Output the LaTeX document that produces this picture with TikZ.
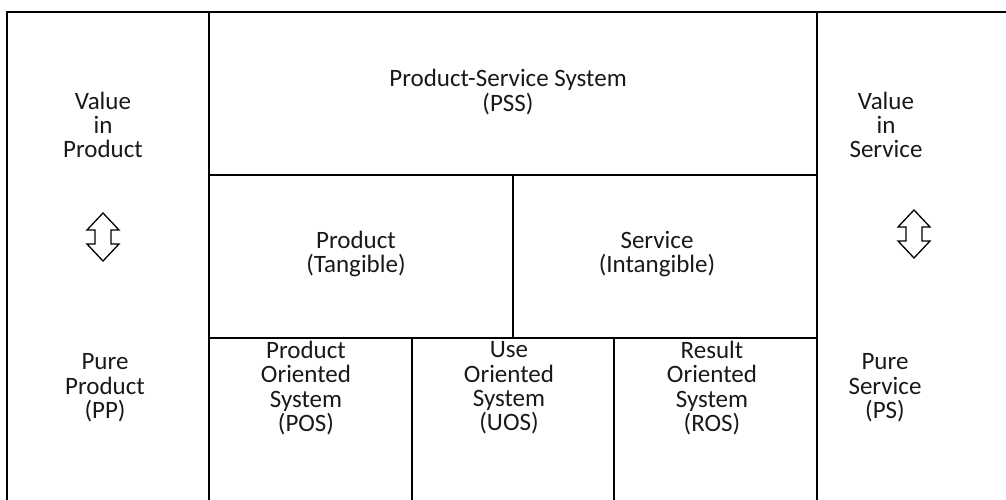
\documentclass[tikz,border=0pt]{standalone}
\usepackage{fontspec}
\setmainfont{Carlito}
\begin{document}
\begin{tikzpicture}[x=1pt,y=-1pt,
  grid/.style={line width=2pt, line cap=rect},
  lbl/.style={align=center, inner sep=0pt, font=\fontsize{25}{24.4}\selectfont, text=black!90},
  dblarrow/.style={draw=black, line width=1.3pt, fill=white, line join=miter}]
\useasboundingbox (0,0) rectangle (1006,500);
% grid lines
\draw[grid] (7,500) -- (7,12) -- (1006,12);
\draw[grid] (209,12) -- (209,500);
\draw[grid] (817,12) -- (817,500);
\draw[grid] (209,175) -- (817,175);
\draw[grid] (513,175) -- (513,338);
\draw[grid] (209,338) -- (817,338);
\draw[grid] (412,338) -- (412,500);
\draw[grid] (614,338) -- (614,500);
% texts
\node[lbl] (pss) at (508,92) {Product-Service System\\(PSS)};
\node[lbl] (vip) at (103,125) {Value\\in\\Product};
\node[lbl] (vis) at (886,125) {Value\\in\\Service};
\node[lbl] (prod) at (356,254) {Product\\(Tangible)};
\node[lbl] (serv) at (657,254) {Service\\(Intangible)};
\node[lbl] (pp) at (105,388) {Pure\\Product\\(PP)};
\node[lbl] (pos) at (306,388) {Product\\Oriented\\System\\(POS)};
\node[lbl] (uos) at (509,388) {Use\\Oriented\\System\\(UOS)};
\node[lbl] (ros) at (712,388) {Result\\Oriented\\System\\(ROS)};
\node[lbl] (ps) at (885,388) {Pure\\Service\\(PS)};
% double arrows
\foreach \cx/\cy/\nm in {103/237/la, 914/234/ra}{
  \coordinate (\nm) at (\cx,\cy);
  \draw[dblarrow] (\cx,\cy-24) -- (\cx+16,\cy-7) -- (\cx+8,\cy-7) -- (\cx+8,\cy+7)
    -- (\cx+16,\cy+7) -- (\cx,\cy+24) -- (\cx-16,\cy+7) -- (\cx-8,\cy+7)
    -- (\cx-8,\cy-7) -- (\cx-16,\cy-7) -- cycle;
}
\end{tikzpicture}
\end{document}
